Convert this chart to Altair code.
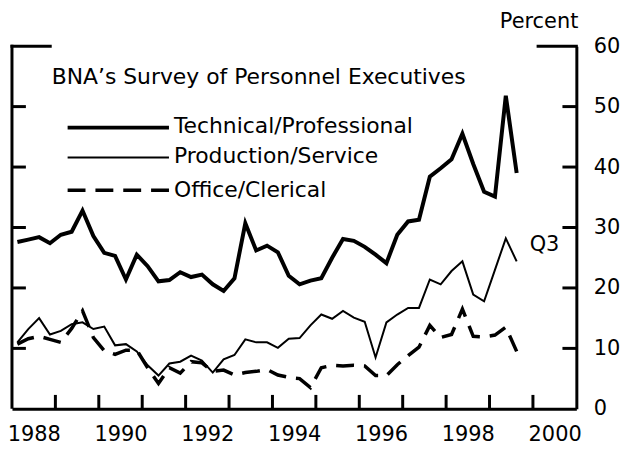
import altair as alt
import pandas as pd

FONT = "DejaVu Sans"
FS = 22
AFS = 21

# quarterly observations, 1988Q1 .. 1999Q3
quarters = [f"{y}Q{q}" for y in range(1988, 2000) for q in range(1, 5)][:47]

technical = [27.6, 28.0, 28.4, 27.4, 28.8, 29.3, 32.8, 28.6, 25.8, 25.3,
             21.4, 25.5, 23.6, 21.1, 21.3, 22.6, 21.8, 22.2, 20.6, 19.5,
             21.6, 30.7, 26.2, 27.0, 25.9, 22.0, 20.6, 21.2, 21.6, 25.0,
             28.1, 27.8, 26.8, 25.5, 24.1, 28.8, 31.0, 31.3, 38.4, 39.8,
             41.3, 45.5, 40.5, 35.9, 35.1, 51.8, 39.0]
production = [11.0, 13.2, 15.0, 12.3, 12.9, 14.0, 14.3, 13.2, 13.6, 10.5,
              10.7, 9.5, 7.2, 5.5, 7.5, 7.8, 8.8, 8.0, 6.0, 8.2,
              8.9, 11.5, 11.0, 11.0, 10.1, 11.6, 11.7, 13.8, 15.6, 14.9,
              16.2, 15.1, 14.4, 8.5, 14.3, 15.6, 16.7, 16.7, 21.4, 20.6,
              22.8, 24.4, 18.9, 17.8, 23.0, 28.2, 24.4]
office = [10.7, 11.6, 12.0, 11.5, 11.0, 13.3, 16.2, 11.8, 9.6, 9.0,
          9.7, 9.7, 6.8, 4.2, 6.8, 5.9, 7.8, 7.6, 6.2, 6.4,
          5.6, 6.0, 6.2, 6.5, 5.6, 5.2, 5.0, 3.5, 6.8, 7.2,
          7.1, 7.2, 7.1, 5.5, 5.5, 7.3, 8.8, 10.2, 13.8, 11.8,
          12.3, 16.5, 12.0, 11.9, 12.2, 13.5, 9.5]

series_names = ["Technical/Professional", "Production/Service", "Office/Clerical"]
legend_title = "BNA\u2019s Survey of Personnel Executives"
x_label_years = [1988, 1990, 1992, 1994, 1996, 1998, 2000]
x_tick_years = [1989, 1990, 1991, 1992, 1993, 1994, 1995, 1996, 1997, 1998, 1999, 2000]
y_label_values = [0, 10, 20, 30, 40, 50, 60]
y_tick_values = [10, 20, 30, 40, 50]

rows = []
for name, vals in zip(series_names, [technical, production, office]):
    for q, v in zip(quarters, vals):
        rows.append({"quarter": q, "series": name, "value": v})
df = pd.DataFrame(rows)

W, H = 568, 365
TICK = 14
X_DOMAIN = [1988, 2001]
Y_DOMAIN = [0, 60]
styles = {
    "Technical/Professional": dict(strokeWidth=4),
    "Production/Service": dict(strokeWidth=2),
    "Office/Clerical": dict(strokeWidth=3.5, strokeDash=[18, 10]),
}

xscale = alt.Scale(domain=X_DOMAIN, nice=False, zero=False)
yscale = alt.Scale(domain=Y_DOMAIN, nice=False, zero=True)

base = alt.Chart(df).transform_calculate(
    t="toNumber(substring(datum.quarter, 0, 4)) + (toNumber(substring(datum.quarter, 5, 6)) - 0.5) / 4"
)

common_axis = dict(grid=False, title=None, domainColor="black", tickColor="black",
                   labelColor="black", labelFont=FONT, labelFontSize=AFS)

tech = base.transform_filter(alt.datum.series == series_names[0]).mark_line(
    stroke="black", strokeJoin="miter", **styles[series_names[0]]
).encode(
    x=alt.X("t:Q", scale=xscale, axis=alt.Axis(
        orient="bottom", values=[y + 0.5 for y in x_label_years],
        labelExpr="'' + floor(datum.value)", ticks=False, tickSize=0,
        domain=True, domainWidth=3, labelPadding=15, labelFlush=False,
        labelOverlap=False, **common_axis)),
    y=alt.Y("value:Q", scale=yscale, axis=alt.Axis(
        orient="right", values=y_label_values, ticks=False, tickSize=0,
        domain=True, domainWidth=3, labelPadding=17, labelFlush=False,
        labelOverlap=False, **common_axis)),
)

prod = base.transform_filter(alt.datum.series == series_names[1]).mark_line(
    stroke="black", strokeJoin="miter", **styles[series_names[1]]
).encode(
    x=alt.X("t:Q", scale=xscale, axis=None),
    y=alt.Y("value:Q", scale=yscale, axis=None),
)

off = base.transform_filter(alt.datum.series == series_names[2]).mark_line(
    stroke="black", strokeJoin="miter", **styles[series_names[2]]
).encode(
    x=alt.X("t:Q", scale=xscale, axis=None),
    y=alt.Y("value:Q", scale=yscale, axis=None),
)

one = pd.DataFrame({"k": [0]})


def seg(x1, x2, y1, y2, width=3):
    return alt.Chart(one).mark_rule(stroke="black", strokeWidth=width).encode(
        x=alt.value(x1), x2=alt.value(x2), y=alt.value(y1), y2=alt.value(y2))


def px_x(year):
    return (year - X_DOMAIN[0]) / (X_DOMAIN[1] - X_DOMAIN[0]) * W


def px_y(v):
    return H - (v - Y_DOMAIN[0]) / (Y_DOMAIN[1] - Y_DOMAIN[0]) * H


# frame pieces: left edge and the two short top corner stubs
frame = [seg(0, 0, -1.5, H), seg(-1.5, 40, 0, 0), seg(W - 40, W + 1.5, 0, 0)]
# inward tick marks on the frame (axis decoration)
ticks = [seg(px_x(yr), px_x(yr), H, H - TICK) for yr in x_tick_years]
ticks += [seg(0, TICK, px_y(v), px_y(v)) for v in y_tick_values]
ticks += [seg(W - TICK, W, px_y(v), px_y(v)) for v in y_tick_values]


def label(txt, x, y, align="left", baseline="alphabetic", size=FS):
    return alt.Chart(one).mark_text(
        text=txt, font=FONT, fontSize=size, color="black", align=align, baseline=baseline
    ).encode(x=alt.value(x), y=alt.value(y))


layers = [tech, prod, off] + frame + ticks + [
    label(legend_title, 40, 38),
    label("Percent", 570, -18, align="right", size=AFS),
    label("Q3", 521, 200, baseline="middle", size=AFS),
]

leg_line_y = [82, 112, 145]
leg_text_y = [87, 118, 152]
for name, ly, ty in zip(series_names, leg_line_y, leg_text_y):
    layers.append(alt.Chart(one).mark_rule(stroke="black", **styles[name]).encode(
        x=alt.value(56), x2=alt.value(158), y=alt.value(ly)))
    layers.append(label(name, 163, ty))

chart = alt.layer(*layers).resolve_axis(x="independent", y="independent").properties(
    width=W, height=H,
    autosize=alt.AutoSizeParams(type="none"),
    padding={"left": 4, "top": 37, "right": 55, "bottom": 35},
).configure_view(stroke=None)

chart.save("out.html", embed_options={"renderer": "svg", "actions": False})
